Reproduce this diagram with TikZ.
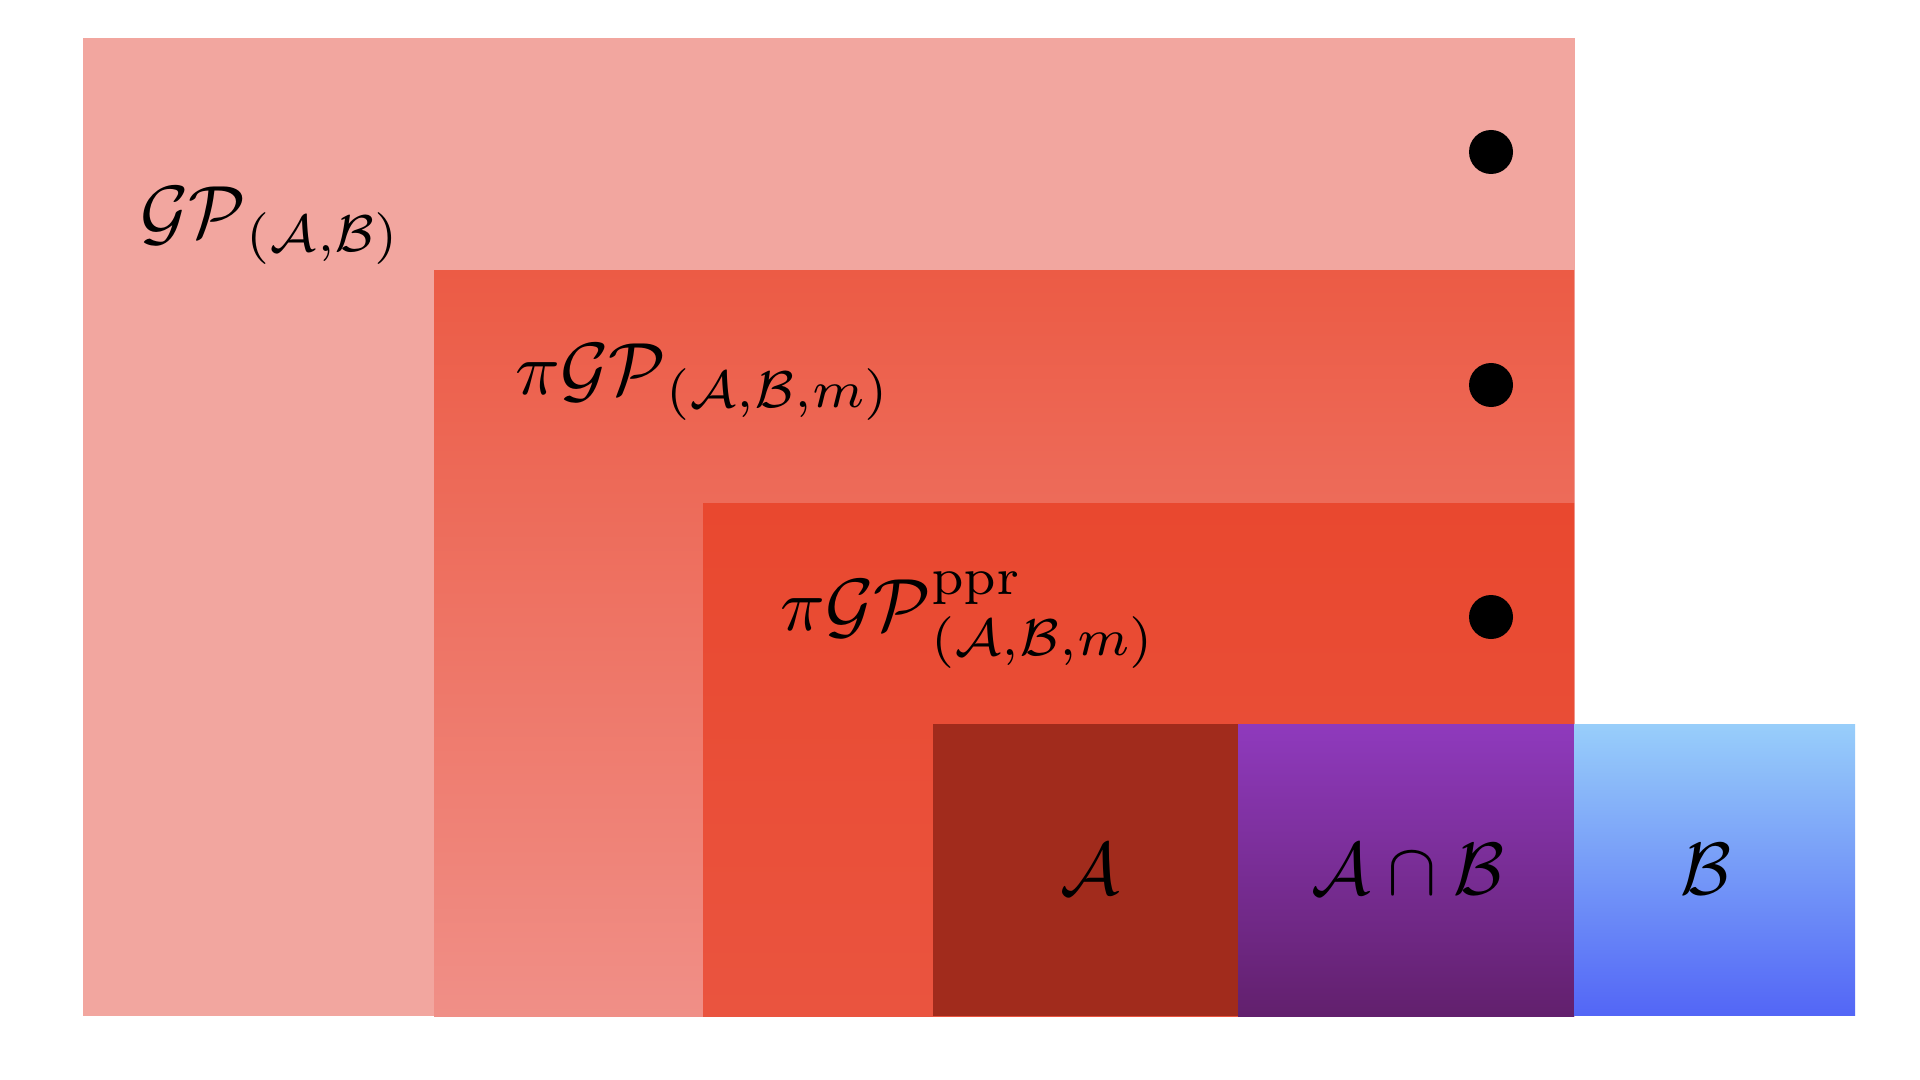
\documentclass[tikz,border=0pt]{standalone}
\usepackage{amsmath}
\usepackage{graphicx}
\definecolor{outerc}{HTML}{F2A69F}
\definecolor{secT}{HTML}{EC5B45}
\definecolor{secB}{HTML}{F08F87}
\definecolor{thrT}{HTML}{E9482F}
\definecolor{thrB}{HTML}{EA543F}
\definecolor{ac}{HTML}{A12B1C}
\definecolor{abT}{HTML}{8F3ABD}
\definecolor{abB}{HTML}{62206D}
\definecolor{bT}{HTML}{98CEFA}
\definecolor{bB}{HTML}{5366F6}
\newcommand{\lblmath}[1]{\scalebox{3.7}{$#1$}}
\tikzset{
  lbl/.style={inner sep=0pt},
  dotc/.style={fill=black}
}
\begin{document}
\begin{tikzpicture}[x=0.5pt,y=-0.5pt]
\useasboundingbox (0,0) rectangle (1920,1080);
\fill[white] (0,0) rectangle (1920,1080);
% rectangles
\fill[outerc] (83,38) rectangle (1575,1016);
\shade[top color=secT, bottom color=secB] (434,271) rectangle (1574,1016);
\shade[top color=thrT, bottom color=thrB] (703,503) rectangle (1574,1016);
\fill[ac] (933,724) rectangle (1238,1016);
\shade[top color=abT, bottom color=abB] (1238,724) rectangle (1574,1016);
\shade[top color=bT, bottom color=bB] (1574,724) rectangle (1855,1015);
% dots
\fill[dotc] (1491,152) circle (22);
\fill[dotc] (1491,385) circle (22);
\fill[dotc] (1491,617) circle (22);
% labels
\node[lbl, anchor=base west] (gp) at (140,238) {\lblmath{\mathcal{GP}_{(\mathcal{A},\mathcal{B})}}};
\node[lbl, anchor=base west] (pigp) at (515,394) {\lblmath{\pi\mathcal{GP}_{(\mathcal{A},\mathcal{B},m)}}};
\node[lbl, anchor=base west] (pigpp) at (780,630) {\lblmath{\pi\mathcal{GP}^{\mathrm{ppr}}_{(\mathcal{A},\mathcal{B},m)}}};
\node[lbl] (la) at (1090,869) {\lblmath{\mathcal{A}}};
\node[lbl] (lab) at (1408,869) {\lblmath{\mathcal{A}\cap\mathcal{B}}};
\node[lbl] (lb) at (1706,869) {\lblmath{\mathcal{B}}};
\end{tikzpicture}
\end{document}
